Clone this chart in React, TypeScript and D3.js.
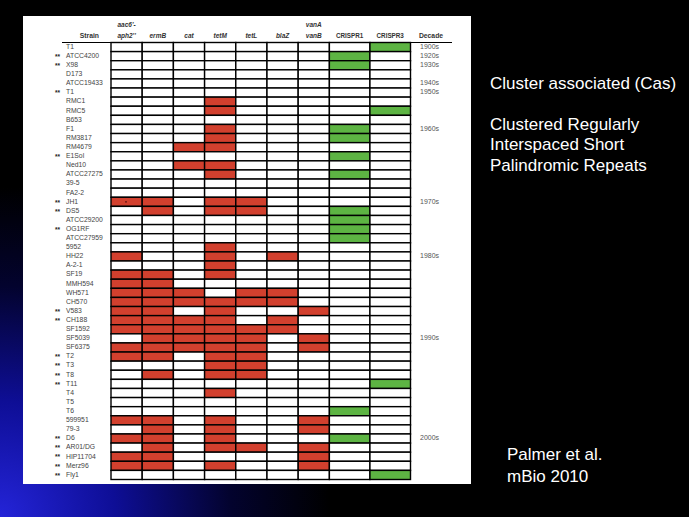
import React from "react";
import * as d3 from "d3";

const strains = [
  "T1", "ATCC4200", "X98", "D173", "ATCC19433", "T1", "RMC1", "RMC5", "B653", "F1",
  "RM3817", "RM4679", "E1Sol", "Ned10", "ATCC27275", "39-5", "FA2-2", "JH1", "DS5", "ATCC29200",
  "OG1RF", "ATCC27959", "5952", "HH22", "A-2-1", "SF19", "MMH594", "WH571", "CH570", "V583",
  "CH188", "SF1592", "SF5039", "SF6375", "T2", "T3", "T8", "T11", "T4", "T5",
  "T6", "599951", "79-3", "D6", "AR01/DG", "HIP11704", "Merz96", "Fly1",
];

const starredStrains = [
  1, 2, 5, 12, 17, 18, 20, 29, 30, 34, 35, 36, 37, 43, 44, 45, 46, 47,
];

// columns: aac6'-aph2'', ermB, cat, tetM, tetL, blaZ, vanB, CRISPR1, CRISPR3
const profiles = [
  "000000001", "000000010", "000000010", "000000000", "000000000", "000000000",
  "000100000", "000100001", "000000000", "000100010", "000100010", "001100000",
  "000000010", "001100000", "000100010", "000000000", "000000000", "110110000",
  "010110010", "000000010", "000000010", "000000010", "000100000", "100101000",
  "000100000", "110100000", "110000000", "111011000", "111111000", "110100100",
  "111101000", "111111000", "011110100", "111110100", "110110000", "000110000",
  "010110000", "000000001", "000100000", "000000000", "000000010", "110100100",
  "010100100", "110100010", "010110100", "110000100", "110100100", "000000001",
];

const headerTop = ["aac6'-", "", "", "", "", "", "vanA", "", ""];
const headerBottom = ["aph2''", "ermB", "cat", "tetM", "tetL", "blaZ", "vanB", "CRISPR1", "CRISPR3"];
const columnKinds = ["gene", "gene", "gene", "gene", "gene", "gene", "gene", "crispr", "crispr"];

const decadeRows = [0, 1, 2, 4, 5, 9, 17, 23, 32, 43];
const decadeLabels = ["1900s", "1920s", "1930s", "1940s", "1950s", "1960s", "1970s", "1980s", "1990s", "2000s"];

const sideNotes = ["Cluster associated (Cas)", "", "Clustered Regularly", "Interspaced Short", "Palindromic Repeats"];
const citation = ["Palmer et al.", "mBio 2010"];

const W = 689;
const H = 517;
const RED = "#d2402e";
const GREEN = "#5db443";
const TFONT = "'Liberation Sans', Arial, sans-serif";

export default function App() {
  const weights = columnKinds.map((k) => (k === "crispr" ? 1.3 : 1));
  const cum = [0, ...Array.from(d3.cumsum(weights))];
  const x = d3.scaleLinear().domain([0, cum[cum.length - 1]]).range([111, 410.5]);
  const y = d3
    .scaleBand<number>()
    .domain(d3.range(strains.length))
    .range([42.5, 479.5])
    .padding(0);
  const bh = y.bandwidth();
  const cy = (r: number) => (y(r) as number) + bh / 2;
  const starSet = new Set(starredStrains);

  return (
    <svg
      width={W}
      height={H}
      style={{ position: "absolute", left: 0, top: 0, display: "block" }}
      xmlns="http://www.w3.org/2000/svg"
    >
      <defs>
        <radialGradient id="bluebg" gradientUnits="userSpaceOnUse" cx={0} cy={H} r={330}>
          <stop offset="0" stopColor="#2424d8" />
          <stop offset="0.35" stopColor="#0e0e96" />
          <stop offset="0.7" stopColor="#03032e" />
          <stop offset="1" stopColor="#000000" />
        </radialGradient>
      </defs>
      <rect x={0} y={0} width={W} height={H} fill="#000" />
      <rect x={0} y={0} width={W} height={H} fill="url(#bluebg)" />

      {/* white panel */}
      <rect x={23} y={16} width={448} height={468} fill="#fff" />

      {/* header */}
      <g fontFamily={TFONT} fill="#333">
        <text x={99} y={36.5} textAnchor="end" dominantBaseline="middle" fontSize={6.8} fontWeight="bold">
          Strain
        </text>
        {headerBottom.map((h, i) => {
          const cx = (x(cum[i]) + x(cum[i + 1])) / 2;
          const isGene = columnKinds[i] === "gene";
          return (
            <g key={i}>
              {headerTop[i] && (
                <text x={cx} y={25} textAnchor="middle" dominantBaseline="middle" fontSize={6.5}
                  fontStyle="italic" fontWeight="bold">
                  {headerTop[i]}
                </text>
              )}
              <text x={cx} y={36.5} textAnchor="middle" dominantBaseline="middle" fontSize={isGene ? 6.5 : 6.3}
                fontStyle={isGene ? "italic" : "normal"} fontWeight="bold">
                {h}
              </text>
            </g>
          );
        })}
        <text x={431} y={36.5} textAnchor="middle" dominantBaseline="middle" fontSize={6.8} fontWeight="bold">
          Decade
        </text>
      </g>
      <line x1={62} x2={452} y1={42.5} y2={42.5} stroke="#000" strokeWidth={1} />

      {/* cells */}
      <g>
        {profiles.map((p, r) =>
          p.split("").map((ch, c) => (
            <rect
              key={`${r}-${c}`}
              x={x(cum[c])}
              y={y(r)}
              width={x(cum[c + 1]) - x(cum[c])}
              height={bh}
              fill={ch === "1" ? (columnKinds[c] === "crispr" ? GREEN : RED) : "#fff"}
              stroke="#000"
              strokeWidth={1.4}
            />
          ))
        )}
        <circle cx={x(cum[0]) + 15} cy={cy(17)} r={0.9} fill="#5a1010" />
      </g>

      {/* strain labels */}
      <g fontFamily={TFONT} fontSize={6.8} fill="#444">
        {strains.map((s, r) => (
          <g key={r}>
            {starSet.has(r) && (
              <text x={55} y={cy(r) + 1} dominantBaseline="middle" fontWeight="bold" fontSize={6.5} fill="#222">
                **
              </text>
            )}
            <text x={66} y={cy(r)} dominantBaseline="middle">
              {s}
            </text>
          </g>
        ))}
      </g>

      {/* decades */}
      <g fontFamily={TFONT} fontSize={7} fill="#555">
        {decadeRows.map((r, i) => (
          <text key={i} x={420} y={cy(r)} dominantBaseline="middle">
            {decadeLabels[i]}
          </text>
        ))}
      </g>

      {/* side text */}
      <g fontFamily={TFONT} fontSize={17} fill="#fff">
        {sideNotes.map((t, i) =>
          t ? (
            <text key={i} x={490} y={85 + i * 20.3} dominantBaseline="middle">
              {t}
            </text>
          ) : null
        )}
        {citation.map((t, i) => (
          <text key={i} x={507} y={456 + i * 21.5} dominantBaseline="middle">
            {t}
          </text>
        ))}
      </g>
    </svg>
  );
}
